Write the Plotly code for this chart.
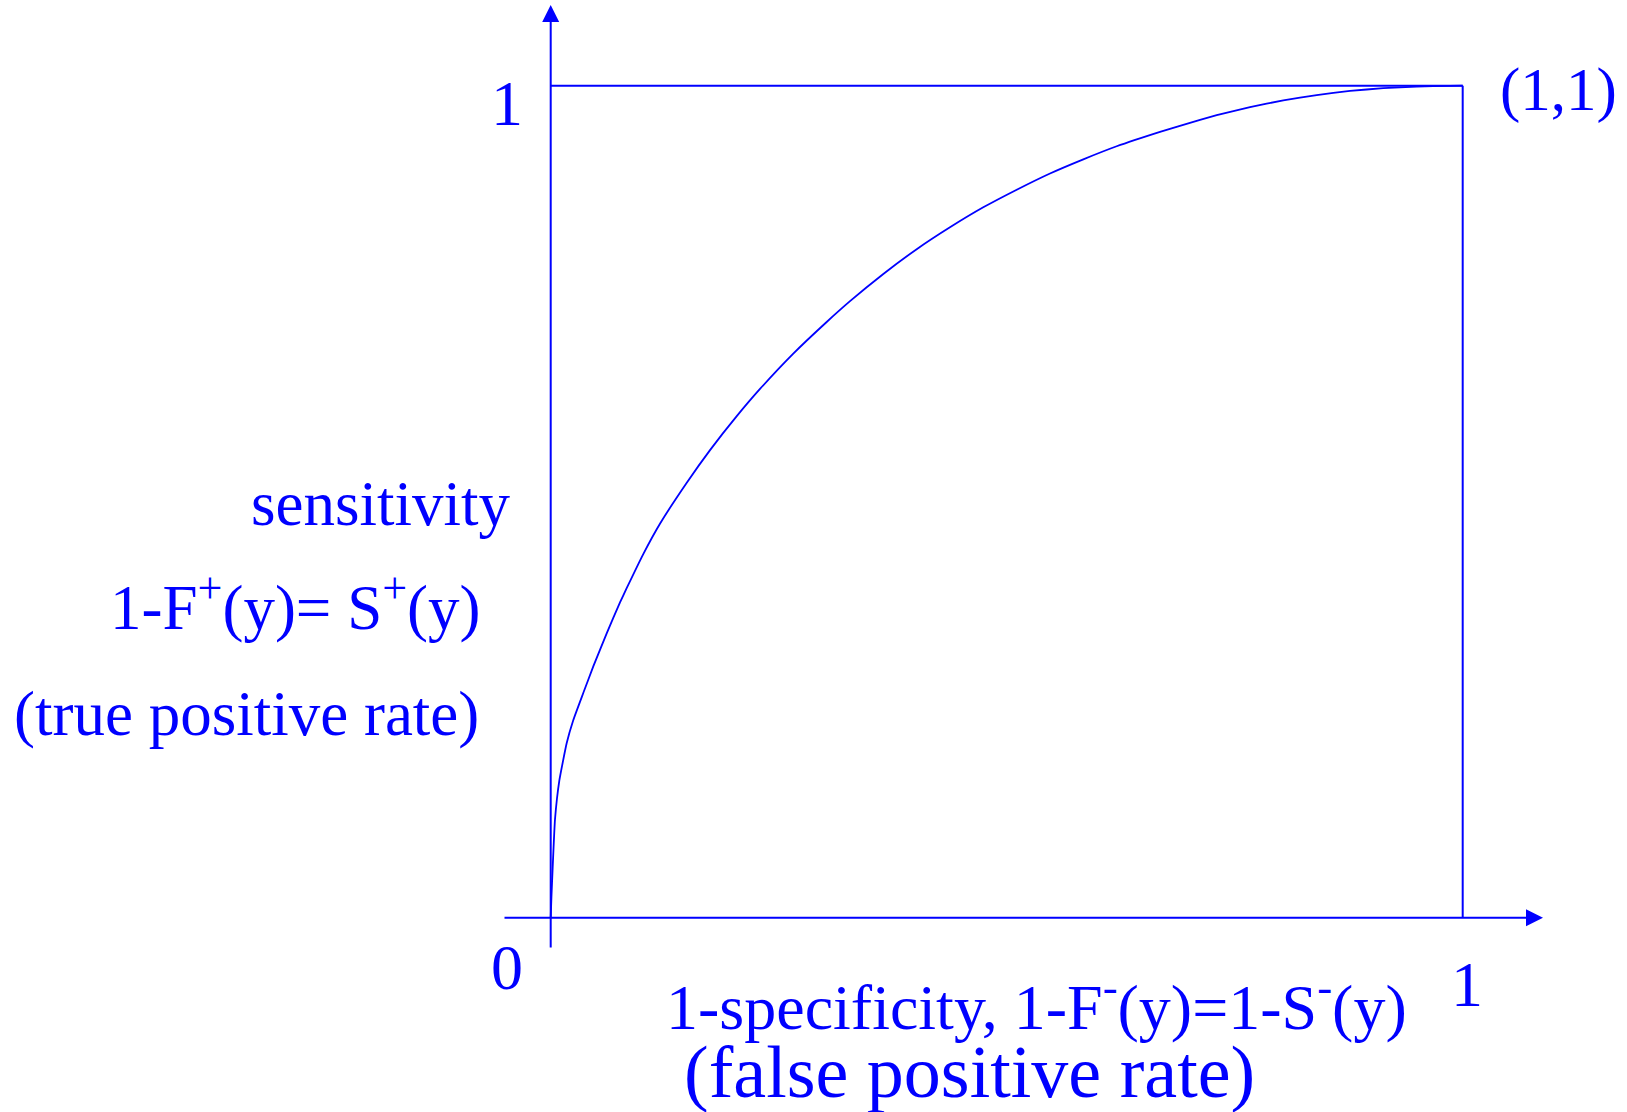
import plotly.graph_objects as go

# ROC curve: false positive rate vs true positive rate
fpr = [0.0, 0.0008, 0.0022, 0.0047, 0.0095, 0.0175, 0.0248, 0.0357, 0.0467, 0.0614,
       0.076, 0.0833, 0.1015, 0.1198, 0.149, 0.1747, 0.204, 0.2295, 0.266, 0.3026,
       0.3282, 0.3647, 0.4013, 0.4378, 0.4743, 0.511, 0.5475, 0.584, 0.6206, 0.6681,
       0.6936, 0.7303, 0.7668, 0.8033, 0.8399, 0.8765, 0.9129, 0.9496, 0.986, 1.0]
tpr = [0.0, 0.025, 0.0613, 0.118, 0.165, 0.2096, 0.2376, 0.270, 0.302, 0.3418,
       0.379, 0.396, 0.437, 0.4735, 0.5225, 0.562, 0.6028, 0.6355, 0.678, 0.716,
       0.741, 0.7737, 0.8035, 0.8298, 0.8538, 0.875, 0.8945, 0.9115, 0.9272, 0.9445,
       0.953, 0.9645, 0.9743, 0.9824, 0.9888, 0.9937, 0.997, 0.9989, 0.9998, 1.0]

# Tick labels
y_tick_label = "1"
x_tick_label = "1"
origin_label = "0"
corner_label = "(1,1)"

W, H = 1627, 1112
BLUE = "#0000FF"
FONT = "Liberation Serif"

# pixel calibration of the unit square
PX_X0, PX_X1 = 550.7, 1462.7
PX_Y0, PX_Y1 = 917.7, 85.7
sx = PX_X1 - PX_X0
sy = PX_Y0 - PX_Y1
xrange_ = [-PX_X0 / sx, (W - PX_X0) / sx]
yrange_ = [(PX_Y0 - H) / sy, PX_Y0 / sy]


def dx(px):
    return (px - PX_X0) / sx


def dy(py):
    return (PX_Y0 - py) / sy


fig = go.Figure()

fig.add_trace(go.Scatter(x=fpr, y=tpr, mode="lines",
                         line=dict(color=BLUE, width=1.8, shape="spline", smoothing=0.4),
                         hoverinfo="skip", showlegend=False))

shapes = [
    # top and right edges of the unit square
    dict(type="line", x0=0, y0=1, x1=1, y1=1, line=dict(color=BLUE, width=2)),
    dict(type="line", x0=1, y0=0, x1=1, y1=1, line=dict(color=BLUE, width=2)),
]

annotations = []
# axes with arrowheads
annotations.append(dict(x=dx(1543), y=0, ax=dx(503), ay=0, xref="x", yref="y",
                        axref="x", ayref="y", showarrow=True, arrowhead=2,
                        arrowsize=1.7, arrowwidth=2, arrowcolor=BLUE, text="",
                        standoff=0, startstandoff=0))
annotations.append(dict(x=0, y=dy(5), ax=0, ay=dy(949), xref="x", yref="y",
                        axref="x", ayref="y", showarrow=True, arrowhead=2,
                        arrowsize=1.7, arrowwidth=2, arrowcolor=BLUE, text="",
                        standoff=0, startstandoff=0))


def label(text, px, py, size, xanchor="center"):
    annotations.append(dict(x=dx(px), y=dy(py), xref="x", yref="y", text=text,
                            showarrow=False, xanchor=xanchor, yanchor="middle",
                            font=dict(family=FONT, size=size, color=BLUE)))


label(y_tick_label, 507, 103, 64)
label(origin_label, 507, 967, 64)
label(x_tick_label, 1467, 984, 64)
label(corner_label, 1558, 90, 61)

label("sensitivity", 513, 504, 63, xanchor="right")
label("1-F<sup>+</sup>(y)= S<sup>+</sup>(y)", 295, 603, 63)
label("(true positive rate)", 246, 714, 63)
label("1-specificity, 1-F<sup>-</sup>(y)=1-S<sup>-</sup>(y)", 1036, 1002, 64)
label("(false positive rate)", 969, 1072, 74)

fig.update_layout(
    width=W, height=H,
    margin=dict(l=0, r=0, t=0, b=0),
    paper_bgcolor="white", plot_bgcolor="white",
    xaxis=dict(range=xrange_, visible=False, fixedrange=True),
    yaxis=dict(range=yrange_, visible=False, fixedrange=True),
    shapes=shapes, annotations=annotations,
    showlegend=False,
)

fig.write_html("out.html")
